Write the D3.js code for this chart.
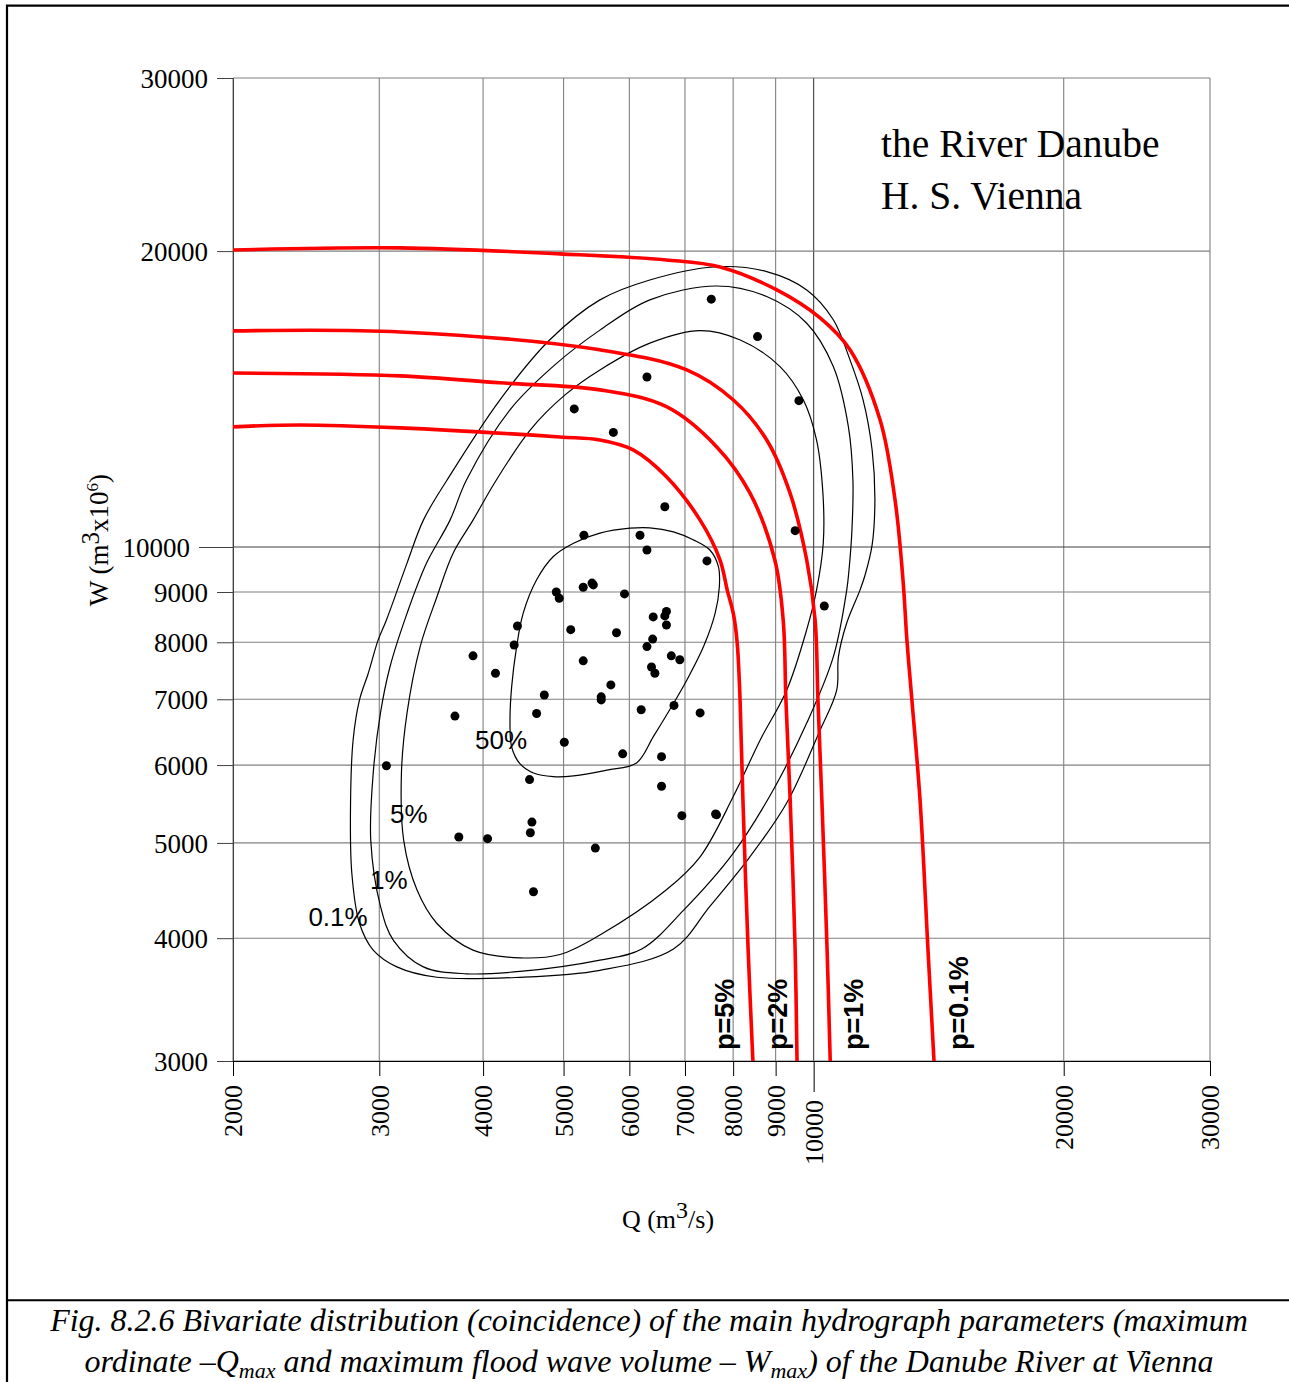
<!DOCTYPE html>
<html>
<head>
<meta charset="utf-8">
<script src="https://cdn.jsdelivr.net/npm/d3@7"></script>
<style>
  html, body { margin: 0; padding: 0; background: #fff; }
  svg { display: block; }
</style>
</head>
<body>
<div id="chart"></div>
<script>
// axis ticks
const qTicks = [2000, 3000, 4000, 5000, 6000, 7000, 8000, 9000, 10000, 20000, 30000];
const wTicks = [3000, 4000, 5000, 6000, 7000, 8000, 9000, 10000, 20000, 30000];

// observed floods: peak discharge Q (m3/s) and volume W (m3 x 10^6)
const obsQ = [7530, 8560, 6300, 5150, 5740, 9600, 6620, 9500, 5290, 6180,
              6300, 7440, 4900, 4940, 5280, 5410, 5430, 5920, 4400, 5100,
              5790, 6410, 6620, 6650, 6650, 4360, 6400, 6300, 3890, 4140,
              5280, 6740, 6900, 6380, 6440, 5700, 4740, 5550, 5550, 4640,
              3700, 6200, 6790, 7300, 5010, 5890, 6560, 3060, 4550, 6560,
              6940, 7640, 7620, 4580, 4560, 3740, 4050, 5460, 4600, 10300];
const obsW = [17870, 16370, 14890, 13820, 13080, 14090, 10990, 10390, 10280, 10280,
              9930, 9680, 9000, 8870, 9100, 9190, 9150, 8960, 8310, 8240,
              8180, 8490, 8510, 8600, 8330, 7950, 8060, 7920, 7750, 7440,
              7660, 7750, 7680, 7550, 7440, 7240, 7070, 7040, 6990, 6770,
              6730, 6830, 6900, 6780, 6330, 6160, 6120, 5990, 5800, 5710,
              5330, 5340, 5350, 5250, 5120, 5070, 5050, 4940, 4460, 8710];

// probability contours of the bivariate distribution [Q, W]
const contour50 = [[6010,10450],[6350,10460],[6780,10360],[7160,10170],[7500,9930],[7680,9550],
  [7700,9110],[7610,8560],[7370,7920],[7035,7320],[6710,6830],[6410,6410],[6120,6030],
  [5640,5930],[5140,5850],[4860,5840],[4600,5890],[4430,6020],[4330,6260],[4310,6670],
  [4330,7210],[4390,7920],[4470,8560],[4640,9260],[4860,9780],[5140,10090],[5530,10330]];
const contour5 = [[5530,15140],[6350,16120],[7300,16600],[8160,16240],[9110,15260],[9720,14110],
  [10080,12850],[10260,11340],[10270,10090],[10080,9040],[9810,8240],[9280,7150],[8620,6360],
  [8000,5570],[7300,4840],[6650,4480],[5530,4030],[4950,3850],[4430,3820],[3890,3890],
  [3520,4140],[3330,4480],[3210,5030],[3190,5890],[3240,6780],[3360,7920],[3520,8900],
  [3680,9850],[3890,10650],[4150,11700],[4560,13160],[5020,14280]];
const contour1 = [[5530,16620],[6350,17840],[7640,18430],[8780,17980],[9810,16890],[10560,15260],
  [11010,13260],[11150,11700],[11120,10410],[11030,9480],[10960,9040],[10560,7730],[9810,6620],
  [8940,5660],[8000,4880],[6970,4270],[6210,3900],[5530,3800],[4430,3700],[3820,3680],
  [3390,3740],[3120,3980],[3010,4310],[2930,5030],[2950,5890],[3010,6780],[3090,7550],
  [3240,8560],[3420,9630],[3650,10650],[3820,11700],[4310,13790],[4880,15320]];
const contour01 = [[5530,17840],[6350,18690],[7640,19280],[8780,19060],[9810,18260],[10560,17030],
  [11060,15500],[11470,14110],[11760,12550],[11850,11170],[11760,10050],[11530,9360],[11370,9040],
  [10960,8370],[10710,7730],[10660,7150],[10180,6510],[9280,5490],[8380,4840],[7500,4310],
  [6780,3900],[5530,3710],[4430,3650],[3520,3650],[3150,3740],[2950,3890],[2840,4140],
  [2780,4660],[2770,5440],[2790,6360],[2840,6990],[2910,7440],[2990,8040],[3060,8430],
  [3240,9630],[3390,10650],[3620,11700],[4190,14110],[4810,16240]];
const contourLabels = ["50%", "5%", "1%", "0.1%"];
const contourLabelQ = [3912, 3090, 2924, 2465];
const contourLabelW = [6231, 5243, 4488, 4116];

// joint exceedance probability lines [Q, W]
const line5 = [[2000,13250],[2410,13310],[3180,13220],[4950,12940],[5530,12850],[6070,12550],
  [6650,11790],[7300,10650],[7715,9700],[7870,9040],[8010,8530],[8090,7990],[8155,6990],
  [8220,5530],[8340,3890],[8450,3000]];
const line2 = [[2000,15030],[3180,14930],[4190,14690],[5530,14450],[6650,13890],[7640,12650],
  [8380,11350],[8980,9700],[9190,8430],[9260,6990],[9370,5530],[9500,3890],[9550,3000]];
const line1 = [[2000,16590],[3180,16550],[5530,15870],[7035,15140],[8005,14110],[8780,12850],
  [9365,11350],[9810,9700],[10040,8430],[10120,6990],[10230,5530],[10380,3890],[10470,3000]];
const line01 = [[2000,20050],[3180,20150],[4950,19870],[6650,19590],[7715,19270],[9030,18260],
  [10180,17100],[11060,15870],[12020,13470],[12530,11170],[12810,9260],[12950,8040],
  [13130,6990],[13430,5530],[13730,3890],[13960,3000]];
const lineLabels = ["p=5%", "p=2%", "p=1%", "p=0.1%"];
const lineLabelQ = [7800, 9034, 11152, 14922];
const lineLabelW = 3078;

const width = 1289, height = 1382;
const mLeft = 233, mRight = 1210, mTop = 78, mBottom = 1061;
const serif = "'Liberation Serif', 'Times New Roman', serif";
const sans = "'Liberation Sans', Arial, sans-serif";

const svg = d3.select("#chart").append("svg").attr("width", width).attr("height", height);

const x = d3.scaleLog().domain([2000, 30000]).range([mLeft, mRight]);
const y = d3.scaleLog().domain([3000, 30000]).range([mBottom, mTop]);

// outer frame
svg.append("path")
  .attr("d", `M7,${height} V5.7 H${width}`)
  .attr("fill", "none").attr("stroke", "#000").attr("stroke-width", 2.2);
svg.append("line")
  .attr("x1", 6).attr("x2", width).attr("y1", 1300.3).attr("y2", 1300.3)
  .attr("stroke", "#000").attr("stroke-width", 2);

// grid
const grid = svg.append("g");
grid.selectAll(".vg").data(qTicks).join("line")
  .attr("x1", d => x(d)).attr("x2", d => x(d))
  .attr("y1", mTop).attr("y2", mBottom)
  .attr("stroke", d => d === 10000 ? "#404040" : "#808080")
  .attr("stroke-width", 1.1);
grid.selectAll(".hg").data(wTicks).join("line")
  .attr("x1", mLeft).attr("x2", mRight)
  .attr("y1", d => y(d)).attr("y2", d => y(d))
  .attr("stroke", d => d === 10000 ? "#404040" : "#808080")
  .attr("stroke-width", 1.1);

// axes
const yAxis = svg.append("g")
  .attr("transform", `translate(${mLeft},0)`)
  .call(d3.axisLeft(y).tickValues(wTicks).tickFormat(d3.format("d")).tickSizeOuter(0).tickSize(16));
yAxis.select(".domain").attr("stroke", "#404040");
yAxis.selectAll(".tick line").attr("stroke", "#404040")
  .attr("x2", d => d === 10000 ? -34 : -16);
yAxis.selectAll(".tick text")
  .attr("x", d => d === 10000 ? -43 : -25)
  .attr("dy", "0.34em")
  .attr("font-family", serif).attr("font-size", 27).attr("fill", "#000");

const xAxis = svg.append("g")
  .attr("transform", `translate(0,${mBottom})`)
  .call(d3.axisBottom(x).tickValues(qTicks).tickFormat(d3.format("d")).tickSizeOuter(0).tickSize(15));
xAxis.select(".domain").attr("stroke", "#000");
xAxis.selectAll(".tick line").attr("stroke", "#000")
  .attr("y2", d => d === 10000 ? 31 : 15);
xAxis.selectAll(".tick text")
  .attr("transform", "rotate(-90)")
  .attr("text-anchor", "end")
  .attr("x", d => d === 10000 ? -39 : -24)
  .attr("y", 0)
  .attr("dy", "0.34em")
  .attr("font-family", serif).attr("font-size", 26).attr("fill", "#000");

// axis titles
const yTitle = svg.append("text")
  .attr("transform", "translate(108,540) rotate(-90)")
  .attr("text-anchor", "middle")
  .attr("font-family", serif).attr("font-size", 27);
yTitle.append("tspan").text("W (m");
yTitle.append("tspan").attr("dy", -9).attr("font-size", 25).text("3");
yTitle.append("tspan").attr("dy", 9).text("x10");
yTitle.append("tspan").attr("dy", -10).attr("font-size", 17).text("6");
yTitle.append("tspan").attr("dy", 10).text(")");

const xTitle = svg.append("text")
  .attr("x", 668).attr("y", 1228)
  .attr("text-anchor", "middle")
  .attr("font-family", serif).attr("font-size", 26);
xTitle.append("tspan").text("Q (m");
xTitle.append("tspan").attr("dy", -10).attr("font-size", 24).text("3");
xTitle.append("tspan").attr("dy", 10).text("/s)");

// station title
svg.append("text").attr("x", 881).attr("y", 157)
  .attr("font-family", serif).attr("font-size", 39.5).text("the River Danube");
svg.append("text").attr("x", 881).attr("y", 209)
  .attr("font-family", serif).attr("font-size", 39.5).text("H. S. Vienna");

// contours
const plot = svg.append("g");
const contourLine = d3.line().x(d => x(d[0])).y(d => y(d[1])).curve(d3.curveCatmullRomClosed.alpha(0.5));
[contour50, contour5, contour1, contour01].forEach(c => {
  plot.append("path").attr("d", contourLine(c))
    .attr("fill", "none").attr("stroke", "#000").attr("stroke-width", 1.2);
});
plot.selectAll(".clabel").data(contourLabels).join("text")
  .attr("x", (d, i) => x(contourLabelQ[i]))
  .attr("y", (d, i) => y(contourLabelW[i]))
  .attr("font-family", sans).attr("font-size", 26)
  .text(d => d);

// probability lines
const probLine = d3.line().x(d => x(d[0])).y(d => y(d[1])).curve(d3.curveCatmullRom.alpha(0.5));
[line5, line2, line1, line01].forEach(l => {
  plot.append("path").attr("d", probLine(l))
    .attr("fill", "none").attr("stroke", "#ff0000").attr("stroke-width", 3.6);
});
plot.selectAll(".plabel").data(lineLabels).join("text")
  .attr("transform", (d, i) => `translate(${x(lineLabelQ[i])},${y(lineLabelW)}) rotate(-90)`)
  .attr("dy", "0.36em")
  .attr("font-family", sans).attr("font-weight", "bold").attr("font-size", 27)
  .text(d => d);

// observations
plot.selectAll(".obs").data(obsQ).join("circle")
  .attr("cx", d => x(d))
  .attr("cy", (d, i) => y(obsW[i]))
  .attr("r", 4.5)
  .attr("fill", "#000");

// caption
svg.append("text").attr("x", 649).attr("y", 1331)
  .attr("text-anchor", "middle").attr("font-family", serif).attr("font-style", "italic").attr("font-size", 32)
  .text("Fig. 8.2.6 Bivariate distribution (coincidence) of the main hydrograph parameters (maximum");
const cap2 = svg.append("text").attr("x", 649).attr("y", 1372)
  .attr("text-anchor", "middle").attr("font-family", serif).attr("font-style", "italic").attr("font-size", 32);
cap2.append("tspan").text("ordinate \u2013Q");
cap2.append("tspan").attr("dy", 6).attr("font-size", 22).text("max");
cap2.append("tspan").attr("dy", -6).text(" and maximum flood wave volume \u2013 W");
cap2.append("tspan").attr("dy", 6).attr("font-size", 22).text("max");
cap2.append("tspan").attr("dy", -6).text(") of the Danube River at Vienna");
</script>
</body>
</html>
